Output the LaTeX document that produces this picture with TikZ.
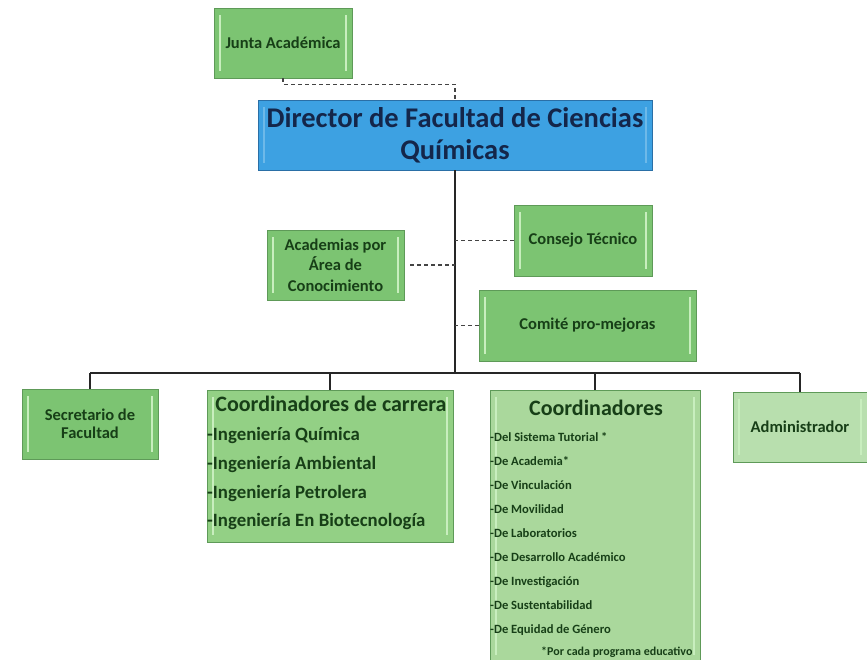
\documentclass[tikz,border=0pt]{standalone}
\usepackage{fontspec}
\setmainfont{Carlito}
\definecolor{gmain}{HTML}{7CC472}
\definecolor{gmid}{HTML}{93D085}
\definecolor{glight}{HTML}{AAD89C}
\definecolor{gpale}{HTML}{B8DFAE}
\definecolor{gborder}{HTML}{5E9A58}
\definecolor{gstripe}{HTML}{C8EEBE}
\definecolor{gtext}{HTML}{173F17}
\definecolor{bmain}{HTML}{3DA1E2}
\definecolor{bborder}{HTML}{2A6FA6}
\definecolor{btext}{HTML}{14264A}
\definecolor{dashgray}{HTML}{444444}
\tikzset{
  stripes/.style={path picture={
    \draw[#1,line width=1.6pt] ([xshift=6pt,yshift=-7pt]path picture bounding box.north west) -- ([xshift=6pt,yshift=7pt]path picture bounding box.south west);
    \draw[#1,line width=1.6pt] ([xshift=-6pt,yshift=-7pt]path picture bounding box.north east) -- ([xshift=-6pt,yshift=7pt]path picture bounding box.south east);}},
  gbox/.style={draw=gborder,fill=gmain,line width=0.8pt,inner sep=0pt,align=center,text=gtext,
    font=\bfseries\fontsize{16.5}{18.5}\selectfont,stripes=gstripe},
  bbox/.style={draw=bborder,fill=bmain,line width=0.8pt,inner sep=0pt,align=center,text=btext,
    font=\bfseries\fontsize{28.5}{32}\selectfont,stripes=bmain!75!white},
  solidline/.style={draw=black!85,line width=1.3pt},
  dashline/.style={draw=dashgray,line width=1.1pt,dashed,dash pattern=on 4pt off 3pt},
  headtxt/.style={text=gtext,font=\bfseries\fontsize{22}{24}\selectfont,inner sep=0pt},
  itemA/.style={text=gtext,font=\bfseries\fontsize{18.8}{21}\selectfont,inner sep=0pt,anchor=base west},
  itemB/.style={text=gtext,font=\bfseries\fontsize{12.6}{14}\selectfont,inner sep=0pt,anchor=base west},
}
\begin{document}
\begin{tikzpicture}[x=1pt,y=-1pt]
\useasboundingbox[fill=white] (0,0) rectangle (867,659);

% top boxes
\node[gbox,minimum width=138pt,minimum height=70pt] (junta) at (283,43) {Junta Académica};
\node[bbox,minimum width=394pt,minimum height=70pt] (dir) at (455,135) {Director de Facultad de Ciencias\\Químicas};

% staff boxes
\node[gbox,minimum width=138pt,minimum height=71pt] (cons) at (583,240.5) {Consejo Técnico};
\node[gbox,minimum width=137pt,minimum height=70pt,font=\bfseries\fontsize{16.5}{20.5}\selectfont] (acad) at (335.5,265) {Academias por\\Área de\\Conocimiento};
\node[gbox,minimum width=217pt,minimum height=71pt] (comite) at (587.5,325.5) {Comité pro-mejoras};

% bottom boxes
\node[gbox,minimum width=136pt,minimum height=70pt] (sec) at (90,424) {Secretario de\\Facultad};
\node[gbox,fill=gmid,minimum width=246pt,minimum height=152pt] (carr) at (330,466) {};
\node[gbox,fill=glight,minimum width=210pt,minimum height=272pt] (coord) at (595,526) {};
\node[gbox,fill=gpale,minimum width=134pt,minimum height=70pt] (adm) at (800,427) {Administrador};

% bus and connectors
\coordinate (busL) at (90,373);
\coordinate (busR) at (800,373);
\draw[solidline,line width=1.1pt] (busL) -- (busR);
\draw[solidline,line width=1.7pt] (dir.south) -- (dir.south |- busL);
\draw[solidline] (sec.north |- busL) -- (sec.north);
\draw[solidline] (carr.north |- busL) -- (carr.north);
\draw[solidline] (coord.north |- busL) -- (coord.north);
\draw[solidline] (adm.north |- busL) -- (adm.north);

\draw[dashline] (junta.south) -- ++(0,6) -| (dir.north);
\draw[dashline] (cons.west) -- (cons.west -| dir.south);
\draw[dashline] (acad.east) ++(6,0) coordinate (acadE) (acadE) -- (acadE -| dir.south);
\draw[dashline] (comite.west) -- (comite.west -| dir.south);

% Coordinadores de carrera text
\node[headtxt] (carrH) at (331,404) {Coordinadores de carrera};
\foreach \t [count=\i] in {Ingeniería Química,Ingeniería Ambiental,Ingeniería Petrolera,Ingeniería En Biotecnología}{
  \node[itemA] (carr\i) at (207,{412+28.7*\i}) {-\t};
}

% Coordinadores text
\node[headtxt] (coordH) at (596,408) {Coordinadores};
\foreach \t [count=\i] in {Del Sistema Tutorial *,De Academia*,De Vinculación,De Movilidad,De Laboratorios,De Desarrollo Académico,De Investigación,De Sustentabilidad,De Equidad de Género}{
  \node[itemB] (coord\i) at (490,{417.5+24*\i}) {-\t};
}
\begin{scope}
\clip (coord.south west) rectangle (coord.north east);
\node[text=gtext,font=\bfseries\fontsize{12}{13}\selectfont,inner sep=0pt,anchor=base west] (nota) at (541,655) {*Por cada programa educativo};
\end{scope}
\end{tikzpicture}
\end{document}
